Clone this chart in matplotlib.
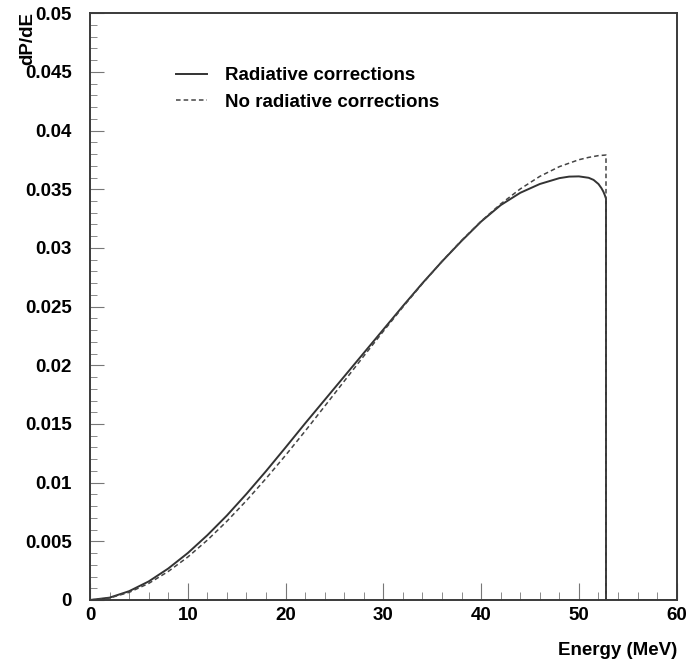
import matplotlib
matplotlib.use("Agg")
import matplotlib.pyplot as plt
from matplotlib.ticker import MultipleLocator

# energy (MeV) and dP/dE
energy_rad = [0, 2, 4, 6, 8, 10, 12, 14, 16, 18, 20, 22, 24, 26, 28, 30, 32, 34,
              36, 38, 40, 42, 44, 46, 48, 49, 50, 51, 51.5, 52, 52.3, 52.5, 52.65,
              52.77, 52.77, 60]
dpde_rad = [0, 0.0002, 0.00075, 0.00158, 0.00268, 0.0040, 0.00552, 0.0072, 0.00904,
            0.01098, 0.0130, 0.01505, 0.01705, 0.01905, 0.02105, 0.02305, 0.02505,
            0.0270, 0.02885, 0.0306, 0.03225, 0.03365, 0.0347, 0.03545, 0.03595,
            0.03608, 0.0361, 0.03598, 0.0358, 0.03545, 0.0351, 0.0348, 0.0345,
            0.0342, 0, 0]

energy_norad = [0, 2, 4, 6, 8, 10, 12, 14, 16, 18, 20, 22, 24, 26, 28, 30, 32, 34,
                36, 38, 40, 42, 44, 46, 48, 50, 51, 52, 52.77, 52.77, 60]
dpde_norad = [0, 0.00017, 0.00065, 0.00141, 0.00243, 0.00366, 0.0051, 0.00671,
              0.00847, 0.01035, 0.01233, 0.01439, 0.01651, 0.01865, 0.02079, 0.0229,
              0.02497, 0.02696, 0.02886, 0.03064, 0.03228, 0.03375, 0.03503, 0.0361,
              0.03693, 0.03752, 0.03772, 0.03787, 0.03792, 0, 0]

plt.rcParams['font.family'] = ['Liberation Sans', 'DejaVu Sans']
plt.rcParams['font.weight'] = 'bold'

fig = plt.figure(figsize=(6.87, 6.64), dpi=100)
ax = fig.add_axes([0.131, 0.0964, 0.854, 0.8836])

ax.plot(energy_rad, dpde_rad, color='#333333', lw=1.4, label='Radiative corrections')
ax.plot(energy_norad, dpde_norad, color='#444444', lw=1.1, dashes=(3, 2),
        label='No radiative corrections')

ax.set_xlim(0, 60)
ax.set_ylim(0, 0.05)
ax.xaxis.set_major_locator(MultipleLocator(10))
ax.xaxis.set_minor_locator(MultipleLocator(2))
ax.yaxis.set_minor_locator(MultipleLocator(0.001))
ax.set_yticks([i * 0.005 for i in range(11)])
ax.set_yticklabels(['0', '0.005', '0.01', '0.015', '0.02', '0.025', '0.03',
                    '0.035', '0.04', '0.045', '0.05'])

ax.tick_params(which='both', direction='in', color='#777777', labelsize=13.5)
ax.tick_params(axis='x', which='major', length=12, pad=5)
ax.tick_params(axis='x', which='minor', length=6)
ax.tick_params(axis='y', which='major', length=10, pad=13)
ax.tick_params(axis='y', which='minor', length=5)
for lab in ax.get_xticklabels() + ax.get_yticklabels():
    lab.set_fontweight('bold')
for sp in ax.spines.values():
    sp.set_color('#3a3a3a')
    sp.set_linewidth(1.4)

fig.text(0.028, 0.982, 'dP/dE', rotation=90, ha='left', va='top',
         fontsize=13.5, fontweight='bold')
fig.text(0.986, 0.007, 'Energy (MeV)', ha='right', va='bottom',
         fontsize=13.5, fontweight='bold')

leg = ax.legend(loc='upper left', bbox_to_anchor=(0.118, 0.937), frameon=False,
                handlelength=1.65, handletextpad=0.95, labelspacing=0.5,
                prop={'weight': 'bold', 'size': 13.5})

fig.savefig('out.png', dpi=100)
